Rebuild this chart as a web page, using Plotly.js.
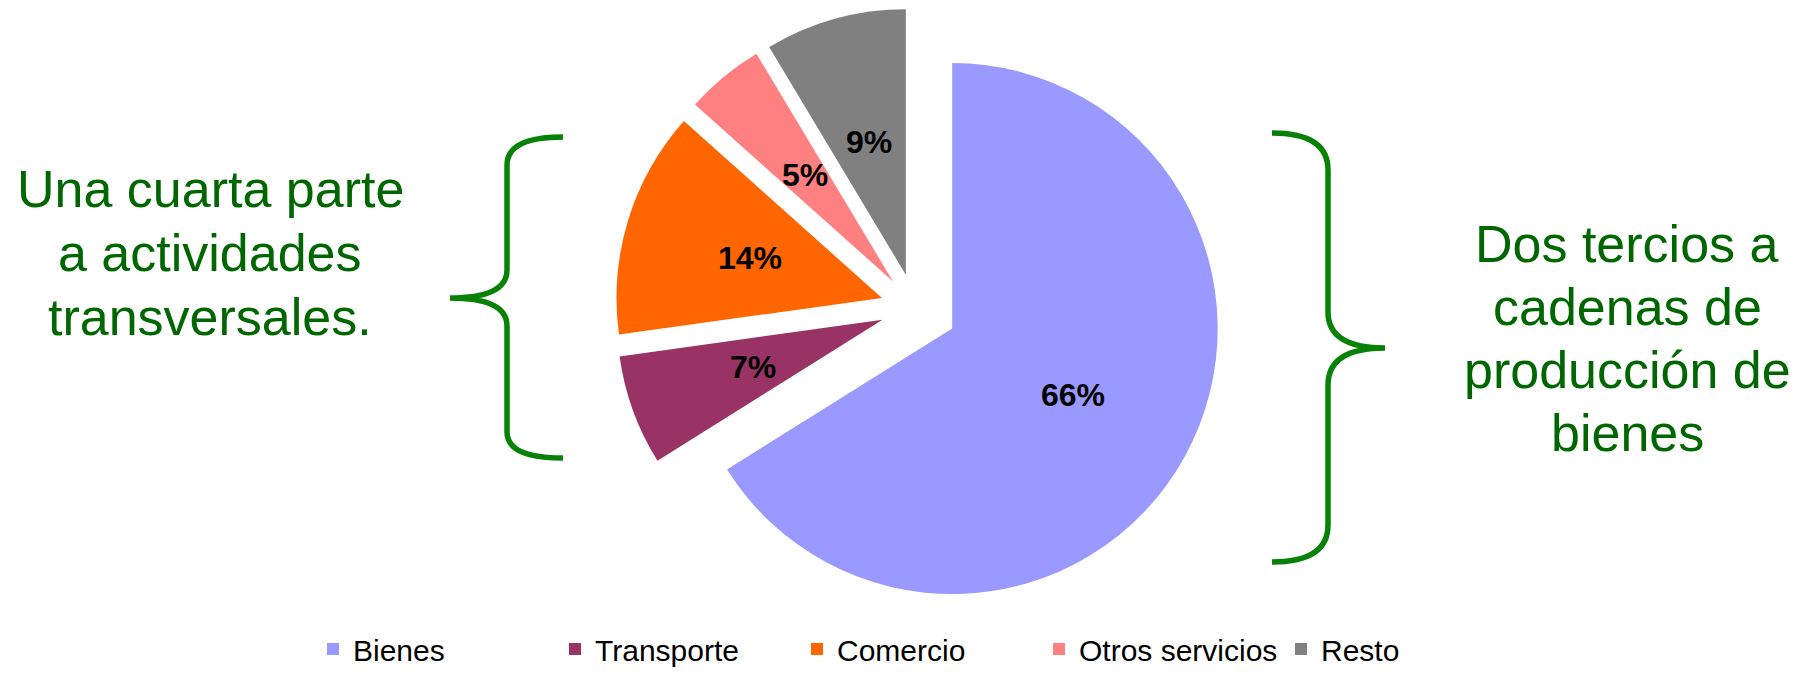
<!DOCTYPE html>
<html>
<head>
<meta charset="utf-8">
<script src="https://cdn.plot.ly/plotly-3.0.1.min.js"></script>
<style>
  html, body { margin: 0; padding: 0; background: #fff; }
  #chart { width: 1807px; height: 675px; }
</style>
</head>
<body>
<div id="chart"></div>
<script>
// data
const labels = ['Bienes', 'Transporte', 'Comercio', 'Otros servicios', 'Resto'];
const shares = [66.1, 6.7, 13.8, 4.8, 8.6];
const colors = ['#9999FF', '#993366', '#FF6600', '#FF8080', '#808080'];
const pulls = [0.16, 0.13, 0.13, 0.13, 0.13];

const leftNote = ['Una cuarta parte', 'a actividades', 'transversales.'];
const rightNote = ['Dos tercios a', 'cadenas de', 'producción de', 'bienes'];

const W = 1807, H = 675;
const FONT = '"Liberation Sans", Arial, sans-serif';
const GREEN_TXT = '#006600';
const GREEN_BRACE = '#078207';

// pixel -> paper helpers (margins are zero and fixed)
const px = x => x / W;
const py = y => 1 - y / H;
const P = (x, y) => px(x) + ',' + py(y);

// pie placement (pixels); radius follows from the domain box and the biggest pull
const CX = 915, CY = 308;
const maxPull = Math.max(...pulls);
const R = CY / (1 + maxPull);
const LABEL_R = 0.52;   // labels sit about half way out, like the original

function bracePath(pts) {
    return pts.map(p => {
        if (p[0] === 'Q') return 'Q' + P(p[1], p[2]) + ' ' + P(p[3], p[4]);
        return p[0] + P(p[1], p[2]);
    }).join(' ');
}

const leftBrace = bracePath([
    ['M', 563, 137], ['Q', 507, 137, 507, 165], ['L', 507, 270],
    ['Q', 507, 298, 450, 298], ['Q', 507, 298, 507, 326], ['L', 507, 432],
    ['Q', 507, 458, 563, 458]
]);
const rightBrace = bracePath([
    ['M', 1272, 133], ['Q', 1328, 133, 1328, 170], ['L', 1328, 312],
    ['Q', 1328, 348, 1385, 348], ['Q', 1328, 348, 1328, 385], ['L', 1328, 525],
    ['Q', 1328, 562, 1272, 562]
]);

const annotations = [];
leftNote.forEach((t, i) => {
    annotations.push({
        text: t, xref: 'paper', yref: 'paper', x: px(210), y: py(189 + i * 64),
        xanchor: 'center', yanchor: 'middle', showarrow: false,
        font: {family: FONT, size: 52, color: GREEN_TXT}
    });
});
rightNote.forEach((t, i) => {
    annotations.push({
        text: t, xref: 'paper', yref: 'paper', x: px(1627), y: py(244 + i * 63),
        xanchor: 'center', yanchor: 'middle', showarrow: false,
        font: {family: FONT, size: 52, color: GREEN_TXT}
    });
});

// percentage labels, placed from the shares (clockwise from 12 o'clock)
const total = shares.reduce((a, b) => a + b, 0);
let cum = 0;
shares.forEach((v, i) => {
    const th = 2 * Math.PI * (cum + v / 2) / total;
    cum += v;
    const rr = R * (pulls[i] + LABEL_R);
    annotations.push({
        text: Math.round(v / total * 100) + '%',
        xref: 'paper', yref: 'paper',
        x: px(CX + rr * Math.sin(th)), y: py(CY - rr * Math.cos(th)),
        xanchor: 'center', yanchor: 'middle', showarrow: false,
        font: {family: FONT, size: 32, color: '#000', weight: 'bold'}
    });
});

const half = CY;
const trace = {
    type: 'pie',
    labels: labels,
    values: shares,
    sort: false,
    direction: 'clockwise',
    rotation: 0,
    pull: pulls,
    marker: {colors: colors, line: {width: 0}},
    textinfo: 'none',
    hoverinfo: 'skip',
    domain: {x: [px(CX - half * 1.2), px(CX + half * 1.2)], y: [py(CY + half), py(CY - half)]}
};

const layout = {
    width: W,
    height: H,
    margin: {l: 0, r: 0, t: 0, b: 0, autoexpand: false},
    paper_bgcolor: '#fff',
    showlegend: true,
    legend: {
        orientation: 'h',
        x: px(918), xanchor: 'center',
        y: 0, yanchor: 'bottom',
        entrywidth: 197,
        font: {family: FONT, size: 30, color: '#000'},
        traceorder: 'normal'
    },
    shapes: [
        {type: 'path', xref: 'paper', yref: 'paper', path: leftBrace,
         line: {color: GREEN_BRACE, width: 5.5}},
        {type: 'path', xref: 'paper', yref: 'paper', path: rightBrace,
         line: {color: GREEN_BRACE, width: 5.5}}
    ],
    annotations: annotations
};

Plotly.newPlot('chart', [trace], layout, {displayModeBar: false, staticPlot: true});
</script>
</body>
</html>
